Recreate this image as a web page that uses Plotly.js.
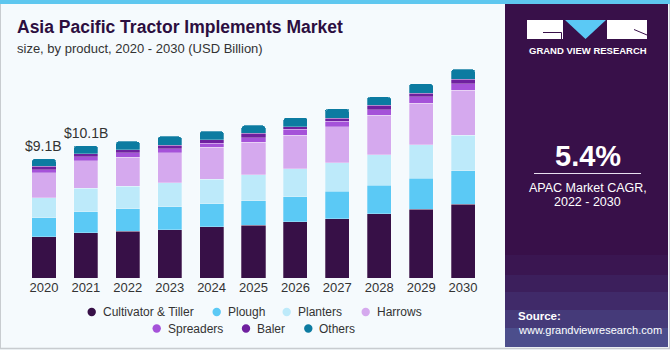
<!DOCTYPE html>
<html>
<head>
<meta charset="utf-8">
<script src="https://cdn.plot.ly/plotly-3.0.1.min.js"></script>
<style>
html,body{margin:0;padding:0;background:#f5fafd;}
#chart{width:670px;height:350px;}
</style>
</head>
<body>
<div id="chart"></div>
<script>
// ---- data ----
const years = ['2020','2021','2022','2023','2024','2025','2026','2027','2028','2029','2030'];
const seriesNames = ['Cultivator & Tiller','Plough','Planters','Harrows','Spreaders','Baler','Others'];
const cultivator = [3.13,3.45,3.55,3.68,3.89,4.04,4.29,4.52,4.88,5.23,5.61];
const plough     = [1.45,1.60,1.71,1.75,1.78,1.85,1.91,2.08,2.18,2.39,2.57];
const planters   = [1.53,1.80,1.75,1.83,1.85,1.98,2.11,2.19,2.32,2.52,2.69];
const harrows    = [1.91,2.10,2.18,2.29,2.44,2.49,2.56,2.74,3.02,3.17,3.43];
const spreaders  = [0.23,0.28,0.34,0.30,0.33,0.33,0.46,0.43,0.43,0.51,0.51];
const baler      = [0.25,0.25,0.25,0.25,0.25,0.33,0.21,0.23,0.33,0.25,0.33];
const others     = [0.59,0.61,0.63,0.69,0.66,0.61,0.69,0.71,0.64,0.74,0.76];
const labelYears = ['2020','2021'];
const labelTexts = ['$9.1B','$10.1B'];

// ---- styling ----
const colors = ['#371047','#5bc9f5','#bdeafa','#d5a9ee','#a552d9','#6f209f','#0c7ba1'];
const seriesValues = [cultivator, plough, planters, harrows, spreaders, baler, others];
const FONT = '"Liberation Sans", Arial, sans-serif';
const W = 670, H = 350;
const ML = 23, MR = 186, MT = 60, MB = 72;
const PW = W - ML - MR, PH = H - MT - MB, BASE = H - MB;
const px = x => (x - ML) / PW;
const py = y => (BASE - y) / PH;

const traces = seriesValues.map((vals, i) => ({
  type: 'bar', x: years, y: vals, name: seriesNames[i],
  marker: {color: colors[i], line: {color: 'rgba(255,255,255,0.45)', width: 0.6}},
  showlegend: false, hoverinfo: 'x+y+name'
}));

const totals = years.map((_, j) => seriesValues.reduce((s, v) => s + v[j], 0));

const shapes = [];
const annotations = [];

// background frame
shapes.push({type:'rect', xref:'paper', yref:'paper', x0:px(0), x1:px(670), y0:py(0), y1:py(4), fillcolor:'#5ec7ef', line:{width:0}, layer:'below'});
shapes.push({type:'line', xref:'paper', yref:'paper', x0:px(0.5), x1:px(0.5), y0:py(4), y1:py(349), line:{color:'#c8ccd0', width:1}});
shapes.push({type:'line', xref:'paper', yref:'paper', x0:px(0), x1:px(670), y0:py(348.5), y1:py(348.5), line:{color:'#c8ccd0', width:1.5}});
shapes.push({type:'line', xref:'paper', yref:'paper', x0:px(669.5), x1:px(669.5), y0:py(4), y1:py(349), line:{color:'#c8ccd0', width:1}});

// right panel
shapes.push({type:'rect', xref:'paper', yref:'paper', x0:px(505), x1:px(668), y0:py(4), y1:py(347), fillcolor:'#381049', line:{width:0}, layer:'below'});
const grads = [[255,'rgba(80,80,160,0.10)'],[275,'rgba(80,95,170,0.12)'],[292,'rgba(90,115,185,0.14)'],[310,'rgba(100,140,205,0.16)'],[328,'rgba(110,170,225,0.18)']];
grads.forEach(g => shapes.push({type:'rect', xref:'paper', yref:'paper', x0:px(505), x1:px(668), y0:py(g[0]), y1:py(347), fillcolor:g[1], line:{width:0}, layer:'below'}));

// logo
const P = (x, y) => px(x) + ',' + py(y);
shapes.push({type:'rect', xref:'paper', yref:'paper', x0:px(527), x1:px(563), y0:py(20), y1:py(39), fillcolor:'#ffffff', line:{width:0}});
shapes.push({type:'path', xref:'paper', yref:'paper', path:'M' + P(565,20) + ' L' + P(606,20) + ' L' + P(585.5,39) + ' Z', fillcolor:'#5bc9f5', line:{width:0}});
shapes.push({type:'rect', xref:'paper', yref:'paper', x0:px(607), x1:px(647), y0:py(20), y1:py(39), fillcolor:'#ffffff', line:{width:0}});
shapes.push({type:'path', xref:'paper', yref:'paper', path:'M' + P(543,32.5) + ' L' + P(561.5,32.5) + ' L' + P(561.5,39), line:{color:'#381049', width:1}});
shapes.push({type:'path', xref:'paper', yref:'paper', path:'M' + P(634,29.5) + ' L' + P(647,35), line:{color:'#381049', width:1}});
annotations.push({xref:'paper', yref:'paper', x:px(587.5), y:py(50.5), xanchor:'center', yanchor:'middle', text:'GRAND VIEW RESEARCH', showarrow:false, font:{family:FONT, size:9.5, color:'#ffffff', weight:'bold'}});

// CAGR block
annotations.push({xref:'paper', yref:'paper', x:px(587.5), y:py(156), xanchor:'center', yanchor:'middle', text:'<b>5.4%</b>', showarrow:false, font:{family:FONT, size:29, color:'#ffffff'}});
shapes.push({type:'line', xref:'paper', yref:'paper', x0:px(534), x1:px(641), y0:py(173.5), y1:py(173.5), line:{color:'#e8e0f0', width:1}});
annotations.push({xref:'paper', yref:'paper', x:px(587.5), y:py(187.5), xanchor:'center', yanchor:'middle', text:'APAC Market CAGR,', showarrow:false, font:{family:FONT, size:12.5, color:'#ffffff'}});
annotations.push({xref:'paper', yref:'paper', x:px(587.5), y:py(201.5), xanchor:'center', yanchor:'middle', text:'2022 - 2030', showarrow:false, font:{family:FONT, size:12.5, color:'#ffffff'}});
annotations.push({xref:'paper', yref:'paper', x:px(516), y:py(316), xanchor:'left', yanchor:'middle', text:'<b>Source:</b>', showarrow:false, font:{family:FONT, size:11.5, color:'#ffffff'}});
annotations.push({xref:'paper', yref:'paper', x:px(516), y:py(330), xanchor:'left', yanchor:'middle', text:'www.grandviewresearch.com', showarrow:false, font:{family:FONT, size:11, color:'#ffffff'}});

// subtitle
annotations.push({xref:'paper', yref:'paper', x:px(15), y:py(49), xanchor:'left', yanchor:'middle', text:'size, by product, 2020 - 2030 (USD Billion)', showarrow:false, font:{family:FONT, size:13, color:'#333333'}});

// value labels (category axis: position by category index)
labelYears.forEach((yr, k) => {
  const j = years.indexOf(yr);
  annotations.push({x:j, y:totals[j], xref:'x', yref:'y', yanchor:'bottom', xanchor:'center', yshift:3, text:labelTexts[k], showarrow:false, font:{family:FONT, size:14, color:'#333333'}});
});

// custom legend
const legendPos = [[91.7,312],[216.7,312],[286.7,312],[365.7,312],[156.7,328.5],[246,328.5],[308.3,328.5]];
seriesNames.forEach((nm, i) => {
  const [lx, ly] = legendPos[i];
  shapes.push({type:'circle', xref:'paper', yref:'paper', xsizemode:'pixel', ysizemode:'pixel', xanchor:px(lx), yanchor:py(ly), x0:-4.2, x1:4.2, y0:-4.2, y1:4.2, fillcolor:colors[i], line:{width:0}});
  annotations.push({xref:'paper', yref:'paper', x:px(lx + 9), y:py(ly), xanchor:'left', yanchor:'middle', text:nm, showarrow:false, font:{family:FONT, size:12, color:'#333333'}});
});

const layout = {
  width: W, height: H,
  margin: {l: ML, r: MR, t: MT, b: MB, pad: 0},
  paper_bgcolor: '#f5fafd', plot_bgcolor: '#f5fafd',
  barmode: 'stack', bargap: 0.425, barcornerradius: 3,
  title: {text: '<b>Asia Pacific Tractor Implements Market</b>', xref: 'container', yref: 'container', x: 17/670, xanchor: 'left', y: 1 - 21/350, yanchor: 'top', font: {family: FONT, size: 17.5, color: '#2c0e40'}},
  xaxis: {type: 'category', range: [-0.5, 10.5], showgrid: false, zeroline: false, showline: false, ticks: '', tickfont: {family: FONT, size: 13, color: '#333333'}, fixedrange: true},
  yaxis: {range: [0, PH / 13.12], visible: false, fixedrange: true},
  showlegend: false,
  shapes: shapes, annotations: annotations,
  font: {family: FONT}
};

Plotly.newPlot('chart', traces, layout, {displayModeBar: false, staticPlot: true});
</script>
</body>
</html>
